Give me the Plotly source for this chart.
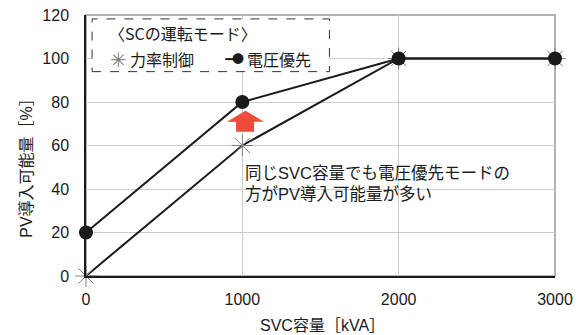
import plotly.graph_objects as go

# SVC capacity [kVA] and hostable PV amount [%] per SC operating mode
svc_kva = [0, 1000, 2000, 3000]
pf_control = [0, 60, 100, 100]        # 力率制御
voltage_priority = [20, 80, 100, 100]  # 電圧優先

x_ticks = [0, 1000, 2000, 3000]
y_ticks = [0, 20, 40, 60, 80, 100, 120]

FONT = "Liberation Sans, Noto Sans CJK JP, sans-serif"
CJK = "Noto Sans CJK JP, sans-serif"

fig = go.Figure()

fig.add_trace(go.Scatter(
    x=svc_kva, y=pf_control, mode="lines+markers", name="力率制御",
    line=dict(color="#1a1a1a", width=2),
    marker=dict(symbol="asterisk-open", size=18, color="#808080",
                line=dict(color="#808080", width=1)),
    cliponaxis=False, showlegend=False,
))
fig.add_trace(go.Scatter(
    x=svc_kva, y=voltage_priority, mode="lines+markers", name="電圧優先",
    line=dict(color="#1a1a1a", width=2),
    marker=dict(symbol="circle", size=14, color="#1a1a1a"),
    cliponaxis=False, showlegend=False,
))

shapes = [
    # gray frame around the plot area
    dict(type="rect", xref="paper", yref="paper", x0=0, x1=1, y0=0, y1=1,
         line=dict(color="#9a9a9a", width=1.5), layer="below"),
    # dashed box of the mode legend
    dict(type="rect", xref="paper", yref="paper",
         x0=0.013, x1=0.519, y0=0.783, y1=0.985,
         line=dict(color="#333333", width=1, dash="dash"),
         fillcolor="white", layer="above"),
    # short line sample next to the 電圧優先 marker
    dict(type="line", xref="paper", yref="paper",
         x0=0.297, x1=0.318, y0=0.831, y1=0.831,
         line=dict(color="#1a1a1a", width=2)),
    # red upward arrow between the two curves at 1000 kVA
    dict(type="path", xref="x", yref="y",
         path="M 1020 76 L 1139 70.9 L 1075 70.9 L 1075 66.3 "
              "L 960 66.3 L 960 70.9 L 902 70.9 Z",
         fillcolor="#ef4a3a", line=dict(width=0), layer="above"),
]

annotations = [
    dict(xref="paper", yref="paper", x=0.045, y=0.931, xanchor="left",
         yanchor="middle", showarrow=False, text="〈SCの運転モード〉",
         font=dict(size=16, color="#1a1a1a", family=CJK)),
    dict(xref="paper", yref="paper", x=0.070, y=0.829, xanchor="center",
         yanchor="middle", showarrow=False, text="✳",
         font=dict(size=20, color="#808080", family="DejaVu Sans")),
    dict(xref="paper", yref="paper", x=0.089, y=0.831, xanchor="left",
         yanchor="middle", showarrow=False, text="力率制御",
         font=dict(size=16, color="#1a1a1a", family=CJK)),
    dict(xref="paper", yref="paper", x=0.324, y=0.833, xanchor="center",
         yanchor="middle", showarrow=False, text="●",
         font=dict(size=12, color="#1a1a1a", family=CJK)),
    dict(xref="paper", yref="paper", x=0.339, y=0.831, xanchor="left",
         yanchor="middle", showarrow=False, text="電圧優先",
         font=dict(size=16, color="#1a1a1a", family=CJK)),
    dict(xref="paper", yref="paper", x=0.335, y=0.354, xanchor="left",
         yanchor="middle", align="left", showarrow=False,
         text="同じSVC容量でも電圧優先モードの<br>方がPV導入可能量が多い",
         font=dict(size=16.5, color="#1a1a1a")),
    # axis titles
    dict(xref="paper", yref="paper", x=-0.128, y=0.43, xanchor="center",
         yanchor="middle", showarrow=False, textangle=-90,
         text="PV導入可能量［%］", font=dict(size=16, color="#1a1a1a")),
    dict(xref="paper", yref="paper", x=0.505, y=-0.188, xanchor="center",
         yanchor="middle", showarrow=False,
         text="SVC容量［kVA］", font=dict(size=16, color="#1a1a1a")),
]

fig.update_layout(
    width=580, height=335,
    margin=dict(l=86, r=25, t=15, b=59, autoexpand=False),
    paper_bgcolor="white", plot_bgcolor="white",
    font=dict(family=FONT, size=16, color="#1a1a1a"),
    shapes=shapes, annotations=annotations,
)
fig.update_xaxes(
    range=[0, 3000], tickvals=x_ticks, ticks="", ticklabelstandoff=8,
    showgrid=True, gridcolor="#cccccc", gridwidth=1,
    showline=True, linecolor="#1a1a1a", linewidth=1.5,
    zeroline=False, automargin=False,
)
fig.update_yaxes(
    range=[0, 120], tickvals=y_ticks, ticks="", ticklabelstandoff=12,
    showgrid=True, gridcolor="#cccccc", gridwidth=1,
    showline=True, linecolor="#1a1a1a", linewidth=1.5,
    zeroline=False, automargin=False,
)

fig.write_html("out.html")
